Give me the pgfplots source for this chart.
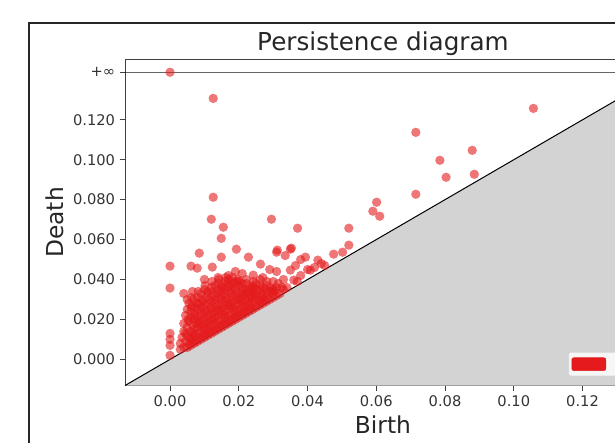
\documentclass[border=0pt]{standalone}
\usepackage{fontspec}
\setmainfont{DejaVu Sans}
\usepackage{pgfplots}
\pgfplotsset{compat=1.18}
\definecolor{setred}{HTML}{E41A1C}
\definecolor{lgray}{HTML}{D3D3D3}
\begin{document}
\begin{tikzpicture}
\begin{axis}[
  scale only axis,
  width=387pt, height=244.7pt,
  xmin=-0.0131, xmax=0.137,
  ymin=-0.0131, ymax=0.1503,
  axis line style={black!75, line width=0.6pt},
  tick style={black!75, line width=0.6pt},
  tick align=outside,
  major tick length=3.9pt,
  xtick={0,0.02,0.04,0.06,0.08,0.10,0.12},
  xticklabels={0.00,0.02,0.04,0.06,0.08,0.10,0.12},
  ytick={0,0.02,0.04,0.06,0.08,0.10,0.12,0.1438},
  yticklabels={0.000,0.020,0.040,0.060,0.080,0.100,0.120,+∞},
  ticklabel style={font=\fontsize{11}{13}\selectfont, text=black!80},
  xtick pos=bottom, ytick pos=left,
  title={Persistence diagram},
  title style={font=\fontsize{18.5}{21}\selectfont, text=black!85, yshift=-6.5pt},
  xlabel={Birth}, ylabel={Death},
  label style={font=\fontsize{17.5}{20}\selectfont, text=black!85},
  legend style={at={(rel axis cs:1,0)}, anchor=south east, xshift=-13pt, yshift=7pt,
    fill=white, fill opacity=0.8, text opacity=1, draw=black!15, rounded corners=1.5pt,
    font=\fontsize{11}{13}\selectfont, inner sep=2pt},
  legend cell align=left,
]
\addplot[fill=lgray, draw=none, forget plot] coordinates {(-0.0131,-0.0131) (0.137,0.137) (0.137,-0.0131) (-0.0131,-0.0131)};
\addplot[only marks, forget plot, setred, mark=*, mark size=3.5pt, mark options={fill=setred, fill opacity=0.6, draw opacity=0}] coordinates {
(0.003,0.005) (0.003,0.008) (0.0035,0.011) (0.004,0.006) (0.004,0.014) (0.004,0.018) (0.0045,0.009) (0.0045,0.022) (0.005,0.006) (0.005,0.012) (0.005,0.016) (0.005,0.025) (0.0055,0.008) (0.0055,0.019) (0.0055,0.028) (0.006,0.007) (0.006,0.011) (0.006,0.014) (0.006,0.021) (0.006,0.024)
(0.0065,0.009) (0.0065,0.017) (0.0065,0.027) (0.007,0.008) (0.007,0.012) (0.007,0.015) (0.007,0.020) (0.007,0.023) (0.007,0.030) (0.0075,0.010) (0.0075,0.018) (0.0075,0.026) (0.008,0.009) (0.008,0.013) (0.008,0.016) (0.008,0.021) (0.008,0.025) (0.008,0.031) (0.0085,0.011) (0.0085,0.019) (0.0085,0.028) (0.009,0.010) (0.009,0.014) (0.009,0.017) (0.009,0.022) (0.009,0.026) (0.009,0.033)
(0.0095,0.012) (0.0095,0.020) (0.0095,0.029) (0.010,0.011) (0.010,0.015) (0.010,0.018) (0.010,0.023) (0.010,0.027) (0.010,0.035) (0.0105,0.013) (0.0105,0.021) (0.0105,0.031) (0.011,0.012) (0.011,0.016) (0.011,0.019) (0.011,0.024) (0.011,0.028) (0.011,0.034) (0.0115,0.014) (0.0115,0.022) (0.0115,0.030) (0.012,0.013) (0.012,0.017) (0.012,0.020) (0.012,0.025) (0.012,0.029) (0.012,0.036)
(0.0125,0.015) (0.0125,0.023) (0.0125,0.032) (0.013,0.014) (0.013,0.018) (0.013,0.021) (0.013,0.026) (0.013,0.030) (0.013,0.037) (0.0135,0.016) (0.0135,0.024) (0.0135,0.033) (0.014,0.015) (0.014,0.019) (0.014,0.022) (0.014,0.027) (0.014,0.031) (0.014,0.038) (0.0145,0.017) (0.0145,0.025) (0.0145,0.034) (0.015,0.016) (0.015,0.020) (0.015,0.023) (0.015,0.028) (0.015,0.032) (0.015,0.036)
(0.0155,0.018) (0.0155,0.026) (0.0155,0.035) (0.016,0.017) (0.016,0.021) (0.016,0.024) (0.016,0.029) (0.016,0.033) (0.016,0.039) (0.0165,0.019) (0.0165,0.027) (0.0165,0.036) (0.017,0.018) (0.017,0.022) (0.017,0.025) (0.017,0.030) (0.017,0.034) (0.017,0.040) (0.0175,0.020) (0.0175,0.028) (0.0175,0.037) (0.018,0.019) (0.018,0.023) (0.018,0.026) (0.018,0.031) (0.018,0.035)
(0.0185,0.021) (0.0185,0.029) (0.0185,0.038) (0.019,0.020) (0.019,0.024) (0.019,0.027) (0.019,0.032) (0.019,0.036) (0.0195,0.022) (0.0195,0.030) (0.0195,0.039) (0.020,0.021) (0.020,0.025) (0.020,0.028) (0.020,0.033) (0.020,0.037) (0.0205,0.023) (0.0205,0.031) (0.021,0.022) (0.021,0.026) (0.021,0.029) (0.021,0.034) (0.021,0.038)
(0.0215,0.024) (0.0215,0.032) (0.022,0.023) (0.022,0.027) (0.022,0.030) (0.022,0.035) (0.0225,0.025) (0.0225,0.033) (0.023,0.024) (0.023,0.028) (0.023,0.031) (0.023,0.036) (0.0235,0.026) (0.0235,0.034) (0.024,0.025) (0.024,0.029) (0.024,0.032) (0.024,0.037) (0.0245,0.027) (0.025,0.026) (0.025,0.030) (0.025,0.033) (0.025,0.038)
(0.026,0.027) (0.026,0.031) (0.026,0.035) (0.0265,0.029) (0.027,0.028) (0.027,0.032) (0.027,0.036) (0.028,0.029) (0.028,0.033) (0.028,0.037) (0.029,0.030) (0.029,0.034) (0.030,0.031) (0.030,0.035) (0.030,0.039) (0.031,0.032) (0.031,0.036) (0.032,0.033) (0.033,0.035) (0.034,0.036)
(0.0045,0.013) (0.0052,0.020) (0.0058,0.010) (0.0062,0.026) (0.0068,0.013) (0.0072,0.022) (0.0078,0.028) (0.0082,0.018) (0.0088,0.024) (0.0092,0.030) (0.0097,0.016) (0.0102,0.025) (0.0108,0.033) (0.0112,0.018) (0.0118,0.026) (0.0122,0.034) (0.0128,0.020) (0.0132,0.028) (0.0138,0.035) (0.0142,0.024) (0.0148,0.030) (0.0152,0.037) (0.0158,0.022) (0.0162,0.031) (0.0168,0.038) (0.0172,0.027) (0.0178,0.033) (0.0182,0.039) (0.0188,0.025) (0.0192,0.034) (0.0198,0.040) (0.0202,0.030) (0.0208,0.036) (0.0212,0.027) (0.0218,0.033) (0.0222,0.038) (0.0228,0.029) (0.0232,0.035) (0.0238,0.031) (0.0242,0.036) (0.0248,0.032) (0.0252,0.035) (0.0258,0.029) (0.0262,0.037) (0.0268,0.033) (0.0272,0.030) (0.0278,0.035) (0.0285,0.031) (0.0292,0.036) (0.0298,0.033) (0.0305,0.034) (0.0315,0.038) (0.0325,0.036)
(0.0062,0.031) (0.0082,0.034) (0.0102,0.037) (0.0122,0.039) (0.0142,0.040) (0.0162,0.041) (0.0182,0.041) (0.0202,0.039) (0.0222,0.040) (0.0242,0.039) (0.0262,0.040) (0.0282,0.039)
(0.0,0.0357) (0.0,0.013) (0.0,0.010) (0.0,0.007) (0.0,0.002) (0.0,0.0467) (0.0061,0.0467) (0.0079,0.0457) (0.0123,0.0462) (0.0085,0.0532) (0.0193,0.0552) (0.0149,0.0512) (0.0228,0.0512) (0.0263,0.0477) (0.031,0.0537) (0.0242,0.0422)
(0.0295,0.0702) (0.01256,0.0812) (0.012,0.0702) (0.0155,0.0662) (0.0149,0.0606) (0.0371,0.0657) (0.052,0.0657) (0.0353,0.0557) (0.0312,0.0547) (0.035,0.0552) (0.0394,0.0512) (0.043,0.0497) (0.0365,0.047) (0.035,0.0447) (0.0408,0.0447) (0.036,0.0397) (0.0242,0.0347) (0.0298,0.0347)
(0.052,0.0572) (0.0502,0.0537) (0.0476,0.0527) (0.0601,0.0787) (0.059,0.0742) (0.061,0.0717) (0.0715,0.0827) (0.0803,0.0912) (0.0885,0.0927) (0.0785,0.0997) (0.0879,0.1047) (0.0715,0.1137) (0.1057,0.1257) (0.01256,0.1307)
(0.033,0.040) (0.038,0.042) (0.040,0.045) (0.042,0.046) (0.044,0.048) (0.045,0.047) (0.037,0.039) (0.017,0.042) (0.019,0.044) (0.021,0.043) (0.014,0.041) (0.027,0.041) (0.029,0.045) (0.031,0.044) (0.004,0.033) (0.0065,0.034) (0.010,0.040) (0.005,0.030) (0.0335,0.052) (0.038,0.050)
(0.0,0.1438)
};
\addplot[black, line width=0.75pt, forget plot] coordinates {(-0.0131,-0.0131) (0.137,0.137)};
\addplot[black, opacity=0.6, line width=0.75pt, forget plot] coordinates {(-0.0131,0.1438) (0.137,0.1438)};
\addlegendimage{legend image code/.code={\fill[setred, fill opacity=1] (0pt,-4.8pt) rectangle (25.5pt,4.8pt);}}
\addlegendentry{\phantom{0}}
\end{axis}
\pgfresetboundingbox
\path[use as bounding box] ([shift={(-93.75pt,-43.1pt)}]current axis.south west) rectangle ++(461.25pt,332.25pt);
\draw[black!85, line width=1.2pt] ([shift={(-72pt,-80pt)}]current axis.south west) -- ([shift={(-72pt,272pt)}]current axis.south west) -- ([shift={(600pt,272pt)}]current axis.south west);
\end{tikzpicture}
\end{document}
